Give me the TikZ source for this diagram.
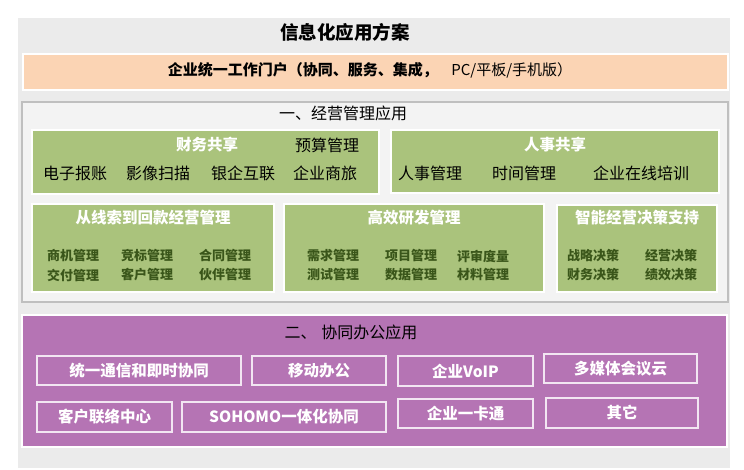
\documentclass[tikz,border=0pt]{standalone}
\usepackage{fontspec}
\setmainfont{Noto Sans CJK SC}
\definecolor{bggray}{HTML}{EBEBEB}
\definecolor{peach}{HTML}{FBD4B4}
\definecolor{secborder}{HTML}{BFBFBF}
\definecolor{grn}{HTML}{AAC37C}
\definecolor{dkgrn}{HTML}{3A561A}
\definecolor{purp}{HTML}{B574B4}
\definecolor{lav}{HTML}{F2E6F2}
\tikzset{
  every node/.style={inner sep=0pt, outer sep=0pt},
  gbox/.style={fill=grn, draw=white, line width=1.5pt},
  gtitle/.style={text=white, font=\bfseries\fontsize{15.5}{16}\selectfont},
  gitem/.style={text=black, font=\fontsize{16}{17}\selectfont},
  sitem/.style={text=dkgrn, font=\bfseries\fontsize{13}{14}\selectfont},
  pbox/.style={draw=lav, line width=1.2pt},
  ptext/.style={text=white, font=\bfseries\fontsize{15.5}{16}\selectfont},
  sechead/.style={text=black, font=\fontsize{16}{17}\selectfont},
}
\begin{document}
\begin{tikzpicture}[x=1pt,y=-1pt]
\useasboundingbox (0,0) rectangle (744,470);
\fill[white] (0,0) rectangle (744,470);
\fill[bggray] (18,18) rectangle (730,468);
% title
\node[font=\bfseries\fontsize{18.5}{20}\selectfont] (title) at (345,32) {信息化应用方案};
% portal band
\node[fill=peach, draw=white, line width=2pt, minimum width=705pt, minimum height=36pt] (portal) at (375.5,72) {};
\node[font=\fontsize{15}{16}\selectfont] (portaltxt) at (370,70) {\textbf{企业统一工作门户（协同、服务、集成，}\hspace{0.9em}PC/平板/手机版）};
% section 1
\draw[fill=bggray!60!white, draw=secborder, line width=2pt] (22,102) rectangle (728,302);
\node[sechead] (s1) at (343,113) {一、经营管理应用};
% finance
\draw[gbox] (32,130) rectangle (379,194);
\node[gtitle] (fin) at (207,145) {财务共享};
\node[gitem] (f0) at (327,145) {预算管理};
\node[gitem] (f1) at (75,173) {电子报账};
\node[gitem] (f2) at (158,173) {影像扫描};
\node[gitem] (f3) at (243,173) {银企互联};
\node[gitem] (f4) at (325,173) {企业商旅};
% HR
\draw[gbox] (391,130) rectangle (719,193);
\node[gtitle] (hr) at (555,145) {人事共享};
\node[gitem] (h1) at (430,173) {人事管理};
\node[gitem] (h2) at (524,173) {时间管理};
\node[gitem] (h3) at (641,173) {企业在线培训};
% lead to cash
\draw[gbox] (32,204) rectangle (274,292);
\node[gtitle] (ltc) at (153,218) {从线索到回款经营管理};
\node[sitem] (l1) at (73,256) {商机管理};
\node[sitem] (l2) at (147,256) {竞标管理};
\node[sitem] (l3) at (225,256) {合同管理};
\node[sitem] (l4) at (73,275) {交付管理};
\node[sitem] (l5) at (147,275) {客户管理};
\node[sitem] (l6) at (225,275) {伙伴管理};
% R&D
\draw[gbox] (284,204) rectangle (544,292);
\node[gtitle] (rd) at (414,218) {高效研发管理};
\node[sitem] (r1) at (333,256) {需求管理};
\node[sitem] (r2) at (411,256) {项目管理};
\node[sitem] (r3) at (483,256) {评审度量};
\node[sitem] (r4) at (333,275) {测试管理};
\node[sitem] (r5) at (411,275) {数据管理};
\node[sitem] (r6) at (483,275) {材料管理};
% decision
\draw[gbox] (557,205) rectangle (717,292);
\node[gtitle] (dec) at (637,218) {智能经营决策支持};
\node[sitem] (d1) at (593,256) {战略决策};
\node[sitem] (d2) at (671,256) {经营决策};
\node[sitem] (d3) at (593,275) {财务决策};
\node[sitem] (d4) at (671,275) {绩效决策};
% section 2
\draw[fill=purp, draw=white, line width=1.5pt] (22,315) rectangle (727,447);
\node[sechead] (s2) at (351,332) {二、\hspace{0.3em}协同办公应用};
\draw[pbox] (37,356) rectangle (241,385);
\node[ptext] (p1) at (139,370.5) {统一通信和即时协同};
\draw[pbox] (252,356) rectangle (386,385);
\node[ptext] (p2) at (319,370.5) {移动办公};
\draw[pbox] (398,356) rectangle (533,386);
\node[ptext] (p3) at (465.5,371) {企业VoIP};
\draw[pbox] (544,354) rectangle (697,383);
\node[ptext] (p4) at (620.5,368.5) {多媒体会议云};
\draw[pbox] (37,402) rectangle (172,432);
\node[ptext] (p5) at (104.5,417) {客户联络中心};
\draw[pbox] (182,402) rectangle (386,432);
\node[ptext] (p6) at (284,417) {SOHOMO一体化协同};
\draw[pbox] (398,399) rectangle (533,428);
\node[ptext] (p7) at (465.5,413.5) {企业一卡通};
\draw[pbox] (546,398) rectangle (698,428);
\node[ptext] (p8) at (622,413) {其它};
\end{tikzpicture}
\end{document}
